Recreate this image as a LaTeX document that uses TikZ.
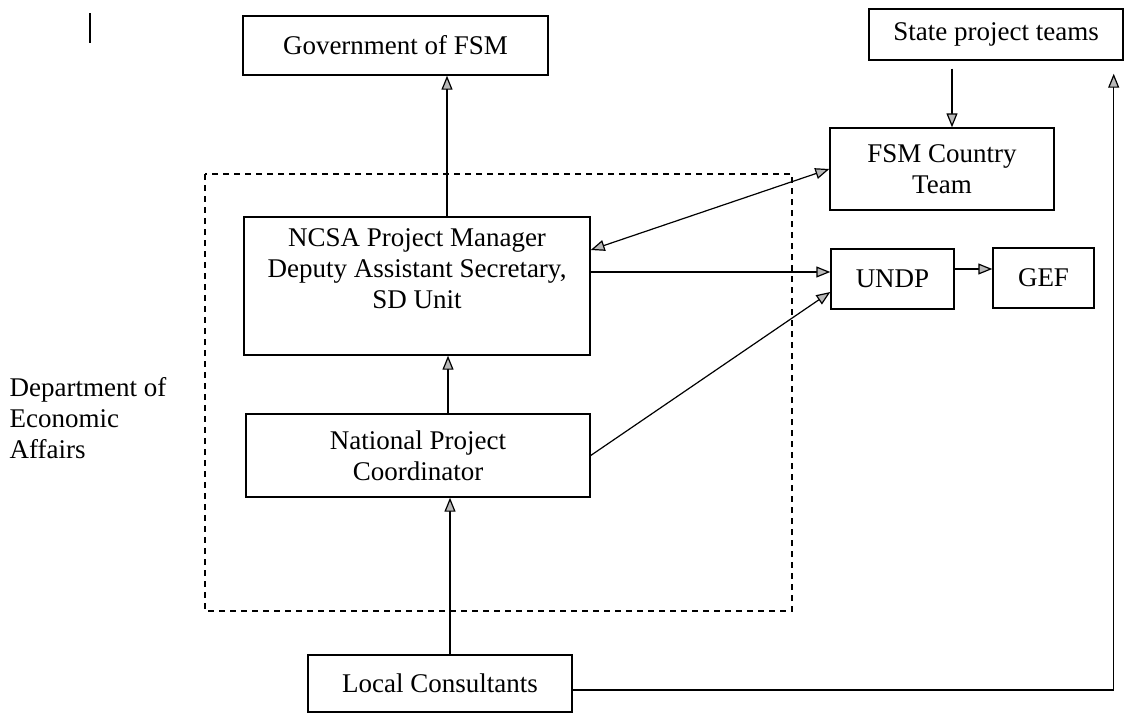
\documentclass[tikz,border=0pt]{standalone}
\usepackage{fontspec}
\setmainfont{Liberation Serif}
\usetikzlibrary{arrows.meta}
\tikzset{box/.style={draw,line width=0.7pt,inner sep=2pt,align=center,
        font=\fontsize{13.5}{15.5}\selectfont},
    >={Triangle[length=7pt,width=5.5pt,fill=gray!55]},
    arr/.style={->,line width=0.6pt},
    arrboth/.style={<->,line width=0.6pt},
    frame/.style={line width=0.6pt,dash pattern=on 3pt off 2.5pt}}

\begin{document}
\begin{tikzpicture}[x=0.5pt,y=-0.5pt]
\useasboundingbox (0,0) rectangle (1125,714);
% stray mark and the dashed frame round the department
\draw[line width=0.6pt] (90,13) -- (90,43);
\draw[frame] (205,174) rectangle (792,611);
\node[box,draw=none,align=left,anchor=west] (dept) at (5,418) {Department of\\Economic\\Affairs};

\node[box,minimum width=152.5pt,minimum height=29.5pt] (gov) at (395.5,45.5) {Government of FSM};
\node[box,minimum width=127pt,minimum height=25.5pt] (state) at (996,34.5) {State project teams};
\node[box,minimum width=112pt,minimum height=41pt] (fsm) at (942,169) {FSM Country\\Team};
\node[box,minimum width=173pt,minimum height=69pt,text depth=17pt] (ncsa) at (417,286)
    {NCSA Project Manager\\Deputy Assistant Secretary,\\SD Unit};
\node[box,minimum width=172pt,minimum height=41.5pt] (npc) at (418,455.5) {National Project\\Coordinator};
\node[box,minimum width=61.5pt,minimum height=30pt] (undp) at (892.5,279) {UNDP};
\node[box,minimum width=50.5pt,minimum height=30pt] (gef) at (1043.5,278) {GEF};
\node[box,minimum width=132pt,minimum height=28.5pt] (local) at (440,683.5) {Local Consultants};

\draw[arr] ([xshift=15pt]ncsa.north) -- ([xshift=15pt]ncsa.north |- gov.south);
\draw[arr] ([xshift=15pt]npc.north) -- ([xshift=15pt]npc.north |- ncsa.south);
\draw[arr] ([xshift=5pt]local.north) -- ([xshift=5pt]local.north |- npc.south);
\draw[arr,shorten <=4pt] ([xshift=5pt]fsm.north |- state.south) -- ([xshift=5pt]fsm.north);
\draw[arrboth] ([yshift=18pt]ncsa.east) -- (fsm.west);
\draw[arr] ([yshift=3.5pt]undp.west -| ncsa.east) -- ([yshift=3.5pt]undp.west);
\draw[arr] (npc.east) -- ([yshift=-6.5pt]undp.west);
\draw[arr] ([yshift=5pt]undp.east) -- ([yshift=5pt]undp.east -| gef.west);
\draw[arr,shorten >=6.5pt] ([yshift=-3.25pt]local.east) -| ([xshift=-5pt]state.south east);
\end{tikzpicture}
\end{document}
